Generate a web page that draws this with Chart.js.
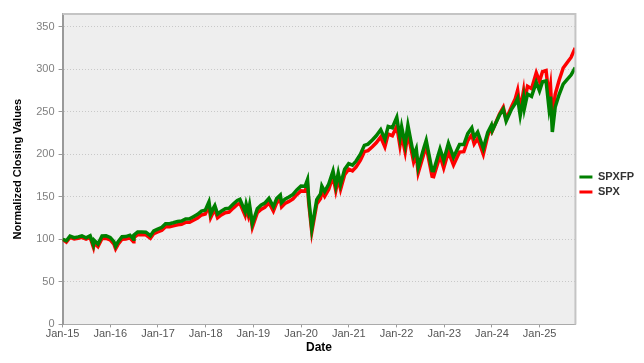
<!DOCTYPE html>
<html>
<head>
<meta charset="utf-8">
<script src="https://cdn.jsdelivr.net/npm/chart.js@4"></script>
<style>
  html, body { margin: 0; padding: 0; background: #ffffff; }
  #wrap { width: 644px; height: 363px; }
</style>
</head>
<body>
<div id="wrap"><canvas id="chart"></canvas></div>
<script>
// Data (normalized to 100 at the first close)
const dates = [
  "2015-01-02","2015-01-30","2015-02-27","2015-03-31","2015-04-30","2015-05-29","2015-06-30","2015-07-31",
  "2015-08-25","2015-08-31","2015-09-29","2015-10-30","2015-11-30","2015-12-31","2016-01-29","2016-02-11",
  "2016-02-29","2016-03-31","2016-04-29","2016-05-31","2016-06-27","2016-06-30","2016-07-29","2016-08-31",
  "2016-09-30","2016-11-04","2016-11-30","2016-12-30","2017-01-31","2017-02-28","2017-03-31","2017-04-28",
  "2017-05-31","2017-06-30","2017-07-31","2017-08-31","2017-09-29","2017-10-31","2017-11-30","2017-12-29",
  "2018-01-26","2018-02-08","2018-02-28","2018-03-12","2018-04-02","2018-04-30","2018-05-31","2018-06-29",
  "2018-07-31","2018-08-31","2018-09-20","2018-10-29","2018-11-07","2018-11-23","2018-12-03","2018-12-24",
  "2019-01-31","2019-02-28","2019-03-29","2019-04-30","2019-06-03","2019-06-28","2019-07-26","2019-08-05",
  "2019-08-30","2019-09-30","2019-10-31","2019-11-29","2019-12-31","2020-01-31","2020-02-19","2020-02-28",
  "2020-03-23","2020-04-30","2020-05-29","2020-06-08","2020-06-30","2020-07-31","2020-09-02","2020-09-23",
  "2020-10-12","2020-10-30","2020-11-30","2020-12-31","2021-01-29","2021-02-26","2021-03-31","2021-04-30",
  "2021-05-28","2021-06-30","2021-07-30","2021-09-02","2021-10-04","2021-10-29","2021-11-30","2022-01-03",
  "2022-01-27","2022-02-09","2022-03-08","2022-03-29","2022-05-12","2022-06-01","2022-06-16","2022-07-29",
  "2022-08-16","2022-09-30","2022-10-12","2022-11-30","2022-12-28","2023-02-02","2023-03-13","2023-04-28",
  "2023-05-31","2023-06-30","2023-07-31","2023-08-18","2023-09-14","2023-10-27","2023-11-30","2023-12-28",
  "2024-01-04","2024-02-29","2024-03-28","2024-04-19","2024-05-31","2024-06-28","2024-07-16","2024-08-05",
  "2024-08-30","2024-09-06","2024-09-30","2024-10-31","2024-12-06","2024-12-31","2025-01-23","2025-02-19",
  "2025-03-13","2025-03-25","2025-04-08","2025-04-30","2025-05-30","2025-06-30","2025-07-31","2025-08-29",
  "2025-09-30"
];

const spx = [
  100.0, 96.9, 102.3, 100.5, 101.4, 102.4, 100.2, 102.2,
  90.7, 95.8, 91.5, 101.0, 101.1, 99.3, 94.3, 88.9,
  93.9, 100.1, 100.3, 101.9, 97.2, 102.0, 105.6, 105.5,
  105.3, 101.3, 106.8, 108.8, 110.7, 114.9, 114.8, 115.8,
  117.2, 117.7, 120.0, 120.1, 122.4, 125.1, 128.7, 129.9,
  139.6, 125.4, 131.9, 135.2, 125.4, 128.7, 131.4, 132.1,
  136.8, 141.0, 142.4, 128.3, 136.7, 127.9, 135.6, 114.2,
  131.4, 135.3, 137.7, 143.1, 133.3, 142.9, 147.0, 138.2,
  142.2, 144.6, 147.6, 152.6, 157.0, 156.7, 164.5, 143.5,
  108.7, 141.5, 147.9, 157.0, 150.6, 158.9, 173.9, 157.3,
  171.8, 158.9, 176.0, 182.5, 180.5, 185.2, 193.0, 203.1,
  204.3, 208.8, 213.5, 220.4, 208.9, 223.7, 221.9, 233.1,
  210.2, 222.9, 202.7, 225.1, 190.9, 199.3, 178.2, 200.7,
  209.2, 174.2, 173.8, 198.2, 183.8, 203.0, 187.3, 202.6,
  203.1, 216.2, 223.0, 212.3, 218.9, 200.0, 221.9, 232.4,
  227.8, 247.6, 255.3, 241.3, 256.4, 265.3, 275.3, 252.0,
  274.4, 262.8, 280.0, 277.2, 295.9, 285.8, 297.3, 298.5,
  268.3, 280.7, 242.1, 270.6, 287.2, 301.5, 308.0, 313.9,
  325.0
];

const spxfp = [
  100.0, 98.4, 103.8, 102.0, 102.9, 104.0, 101.9, 104.2,
  93.7, 98.8, 94.5, 104.0, 104.1, 102.3, 97.3, 91.8,
  96.9, 103.1, 103.3, 104.9, 100.1, 105.0, 108.7, 108.6,
  108.4, 104.3, 110.0, 112.1, 114.2, 118.4, 118.4, 119.5,
  121.0, 121.6, 124.0, 124.2, 126.7, 129.5, 133.2, 134.4,
  144.2, 129.8, 136.4, 139.7, 129.8, 133.2, 136.0, 136.7,
  141.5, 145.8, 147.2, 132.8, 141.4, 132.4, 140.3, 118.4,
  136.1, 140.1, 142.6, 148.2, 138.2, 148.0, 152.2, 143.2,
  147.3, 149.8, 152.9, 158.1, 162.6, 162.4, 170.3, 148.6,
  112.6, 146.6, 153.4, 162.7, 156.3, 164.9, 180.3, 163.2,
  178.0, 164.8, 182.3, 189.0, 187.2, 192.1, 200.2, 210.6,
  212.0, 216.8, 221.8, 229.0, 217.7, 232.8, 231.2, 243.6,
  219.9, 232.4, 211.5, 234.3, 198.6, 206.4, 184.5, 207.5,
  216.3, 181.0, 180.9, 206.4, 192.9, 213.0, 196.6, 211.4,
  211.4, 224.3, 231.0, 220.0, 226.2, 207.0, 225.8, 234.2,
  228.0, 246.5, 253.2, 239.1, 253.2, 259.8, 265.8, 245.4,
  266.2, 254.0, 271.0, 268.1, 284.8, 274.6, 285.4, 286.4,
  254.9, 267.8, 226.3, 255.6, 270.3, 282.6, 288.1, 293.2,
  302.0
];

const xTickLabels = ["Jan-15","Jan-16","Jan-17","Jan-18","Jan-19","Jan-20","Jan-21","Jan-22","Jan-23","Jan-24","Jan-25"];
const yTicks = [0, 50, 100, 150, 200, 250, 300, 350];

// date string -> decimal year, so a linear x axis can be used without a date adapter
function toYear(s) {
  const d = new Date(s + "T00:00:00Z");
  const y = d.getUTCFullYear();
  const start = Date.UTC(y, 0, 1);
  const end = Date.UTC(y + 1, 0, 1);
  return y + (d.getTime() - start) / (end - start);
}

const xs = dates.map(toYear);
const fpPoints = xs.map((x, i) => ({ x: x, y: spxfp[i] }));
const spxPoints = xs.map((x, i) => ({ x: x, y: spx[i] }));

const FONT = "'Liberation Sans', Arial, sans-serif";

// grey plot background with a light frame
const plotFrame = {
  id: "plotFrame",
  beforeDraw(chart) {
    const a = chart.chartArea;
    const c = chart.ctx;
    c.save();
    c.fillStyle = "#eeeeee";
    c.fillRect(a.left, a.top, a.right - a.left, a.bottom - a.top);
    c.restore();
  },
  afterDatasetsDraw(chart) {
    const a = chart.chartArea;
    const c = chart.ctx;
    c.save();
    c.strokeStyle = "#c4c4c4";
    c.lineWidth = 2;
    c.beginPath();
    c.moveTo(a.left, a.top);
    c.lineTo(a.right, a.top);
    c.lineTo(a.right, a.bottom);
    c.stroke();
    c.restore();
  }
};

new Chart(document.getElementById("chart"), {
  type: "line",
  data: {
    datasets: [
      {
        label: "SPXFP",
        data: fpPoints,
        borderColor: "#008000",
        backgroundColor: "#008000",
        borderWidth: 3.5,
        pointRadius: 0,
        tension: 0
      },
      {
        label: "SPX",
        data: spxPoints,
        borderColor: "#ff0000",
        backgroundColor: "#ff0000",
        borderWidth: 3.5,
        pointRadius: 0,
        tension: 0
      }
    ]
  },
  options: {
    responsive: true,
    maintainAspectRatio: false,
    animation: false,
    layout: { padding: { top: 14, right: 0, bottom: 8, left: 11 } },
    plugins: {
      tooltip: { enabled: false },
      legend: {
        position: "right",
        labels: {
          boxWidth: 13,
          boxHeight: 3,
          padding: 4,
          color: "#333333",
          font: { family: FONT, size: 11, weight: "bold" },
          generateLabels(chart) {
            return chart.data.datasets.map((ds, i) => ({
              text: ds.label,
              fillStyle: ds.borderColor,
              strokeStyle: ds.borderColor,
              lineWidth: 0,
              fontColor: "#333333",
              hidden: false,
              datasetIndex: i
            }));
          }
        }
      }
    },
    scales: {
      x: {
        type: "linear",
        min: 2015,
        max: 2025.75,
        afterBuildTicks(scale) {
          scale.ticks = xTickLabels.map((t, i) => ({ value: 2015 + i }));
        },
        ticks: {
          color: "#555555",
          font: { family: FONT, size: 11 },
          maxRotation: 0,
          autoSkip: false,
          padding: 0,
          callback: (v, i) => xTickLabels[i]
        },
        grid: { drawOnChartArea: false, tickLength: 3, color: "#999999" },
        border: { color: "#aaaaaa", width: 1 },
        title: {
          display: true,
          text: "Date",
          color: "#000000",
          font: { family: FONT, size: 12, weight: "bold" },
          padding: { top: 0, bottom: 0 }
        }
      },
      y: {
        min: 0,
        max: 365,
        afterBuildTicks(scale) {
          scale.ticks = yTicks.map(v => ({ value: v }));
        },
        ticks: {
          color: "#808080",
          font: { family: FONT, size: 11 },
          padding: 4
        },
        grid: { color: "#c8c8c8", tickColor: "#999999", tickLength: 4, lineWidth: 1 },
        border: { color: "#999999", width: 2, dash: [1, 2] },
        title: {
          display: true,
          text: "Normalized Closing Values",
          color: "#000000",
          font: { family: FONT, size: 11, weight: "bold" },
          padding: { top: 0, bottom: 8 }
        }
      }
    }
  },
  plugins: [plotFrame]
});
</script>
</body>
</html>
